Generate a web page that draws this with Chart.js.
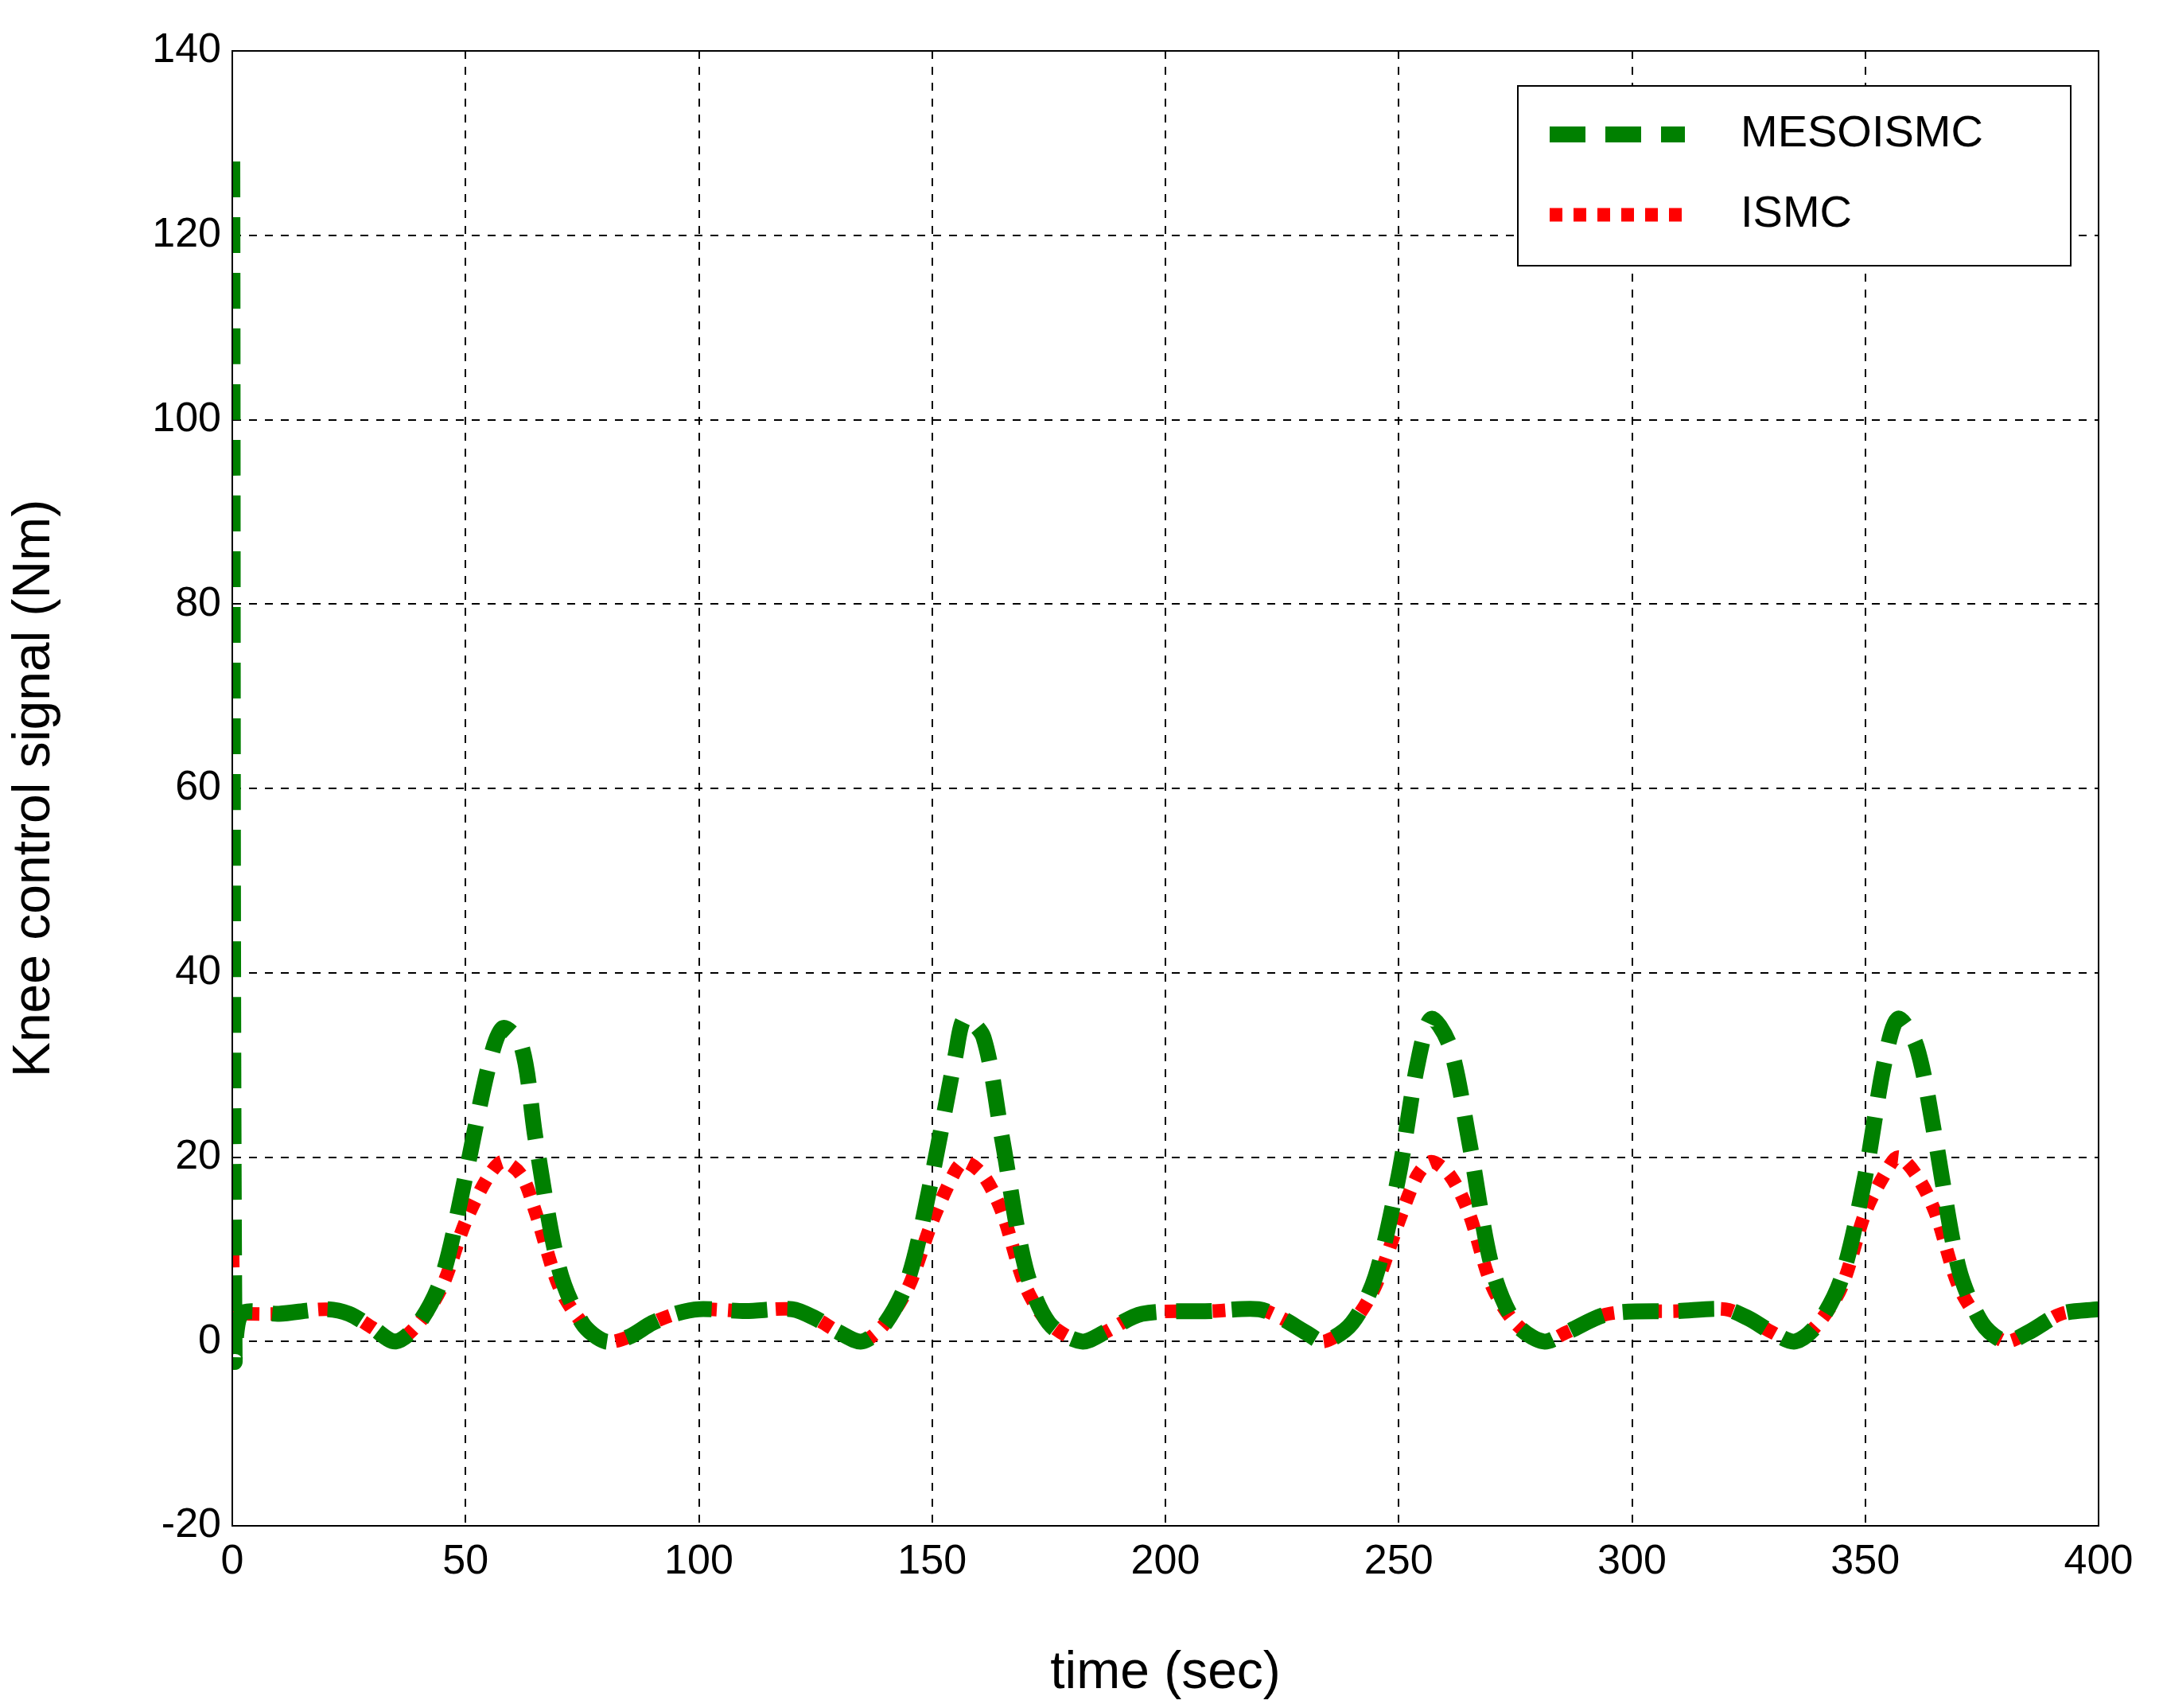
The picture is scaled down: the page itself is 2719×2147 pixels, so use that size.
<!DOCTYPE html>
<html>
<head>
<meta charset="utf-8">
<script src="https://cdn.jsdelivr.net/npm/chart.js@4"></script>
<style>
  body { margin: 0; background: #fff; }
</style>
</head>
<body>
<canvas id="chart" width="2719" height="2147"></canvas>
<script>
// values
var time = [0, 0.5, 2, 10, 20, 25, 30, 35, 40, 45, 50, 55, 58, 62, 65, 70, 75, 80, 85, 90, 95, 100, 110, 120, 125, 130, 135,
  140, 145, 150, 155, 157, 161, 165, 170, 175, 182, 187, 195, 210, 220, 225, 230, 234,
  240, 245, 250, 254, 257, 261, 265, 270, 275, 281, 286, 295, 310, 320, 325, 330, 335,
  340, 345, 350, 354, 357, 361, 365, 370, 375, 380, 385, 392, 400];
var mesoismc = [128, -2, 3, 3, 3.5, 3, 1.5, 0, 2, 7, 18, 30, 34, 32, 22, 8, 2, 0, 0.5, 2, 3, 3.5, 3.3, 3.5, 2.5, 1, 0,
  2, 7, 18, 31, 35, 33, 22, 8, 2, 0, 1, 3, 3.3, 3.5, 2.5, 1, 0,
  2, 7, 18, 30, 35, 32, 22, 8, 2, 0, 1, 3, 3.3, 3.5, 2.5, 1, 0,
  2, 7, 18, 30, 35, 32, 22, 8, 2, 0, 1, 3, 3.5];
var ismc = [12, 3, 3, 3, 3.5, 3, 1.5, 0, 2, 6, 13, 18, 19.5, 18, 14, 6, 2, 0, 0.5, 2, 3, 3.5, 3.3, 3.5, 2.5, 1, 0,
  2, 6, 13, 18.5, 19.5, 18, 14, 6, 2, 0, 1, 3, 3.3, 3.5, 2.5, 1, 0,
  2, 6, 13, 18, 19.5, 18, 14, 6, 2, 0, 1, 3, 3.3, 3.5, 2.5, 1, 0,
  2, 6, 14, 18, 20, 18, 14, 6, 2, 0, 1, 3, 3.5];
var seriesNames = ['MESOISMC', 'ISMC'];

function pts(ys) {
  return time.map(function (t, i) { return { x: t, y: ys[i] }; });
}

// draws the boxed legend in the top right corner
var boxLegend = {
  id: 'boxLegend',
  afterDraw: function (chart) {
    var ctx = chart.ctx;
    var a = chart.chartArea;
    ctx.save();
    // frame around the plot area
    ctx.strokeStyle = '#000';
    ctx.lineWidth = 2;
    ctx.setLineDash([]);
    ctx.strokeRect(a.left, a.top, a.right - a.left, a.bottom - a.top);

    ctx.fillStyle = '#fff';
    ctx.fillRect(1908, 108, 695, 226);
    ctx.strokeRect(1908, 108, 695, 226);
    var rows = [169, 270];
    chart.data.datasets.forEach(function (ds, i) {
      ctx.strokeStyle = ds.borderColor;
      ctx.lineWidth = ds.borderWidth;
      ctx.setLineDash(ds.borderDash);
      ctx.beginPath();
      ctx.moveTo(1948, rows[i]);
      ctx.lineTo(2118, rows[i]);
      ctx.stroke();
      ctx.setLineDash([]);
      ctx.fillStyle = '#000';
      ctx.font = '56px "Liberation Sans", Arial';
      ctx.textBaseline = 'middle';
      ctx.fillText(ds.label, 2188, rows[i]);
    });
    ctx.restore();
  }
};

var font = { size: 52, family: '"Liberation Sans", Arial' };
var titleFont = { size: 66, family: '"Liberation Sans", Arial' };

new Chart(document.getElementById('chart'), {
  type: 'scatter',
  data: {
    datasets: [{
      label: seriesNames[0],
      data: pts(mesoismc),
      showLine: true,
      borderColor: '#008000',
      borderWidth: 20,
      borderDash: [45, 25],
      pointRadius: 0,
      tension: 0.3
    }, {
      label: seriesNames[1],
      data: pts(ismc),
      showLine: true,
      borderColor: '#ff0000',
      borderWidth: 17,
      borderDash: [16, 14],
      pointRadius: 0,
      tension: 0.3
    }]
  },
  options: {
    responsive: false,
    animation: false,
    devicePixelRatio: 1,
    layout: { padding: { top: 64, right: 81, left: 0, bottom: 0 } },
    plugins: { legend: { display: false }, tooltip: { enabled: false } },
    scales: {
      x: {
        min: 0, max: 400,
        ticks: { stepSize: 50, color: '#000', padding: 14, font: font },
        grid: { color: '#000', lineWidth: 2, drawTicks: false },
        border: { display: true, color: '#000', width: 2, dash: [10, 10] },
        title: { display: true, text: 'time (sec)', color: '#000', font: titleFont },
        afterFit: function (s) { s.height = 229; }
      },
      y: {
        min: -20, max: 140,
        ticks: { stepSize: 20, color: '#000', padding: 14, font: font },
        grid: { color: '#000', lineWidth: 2, drawTicks: false },
        border: { display: true, color: '#000', width: 2, dash: [10, 10] },
        title: { display: true, text: 'Knee control signal (Nm)', color: '#000', font: titleFont },
        afterFit: function (s) { s.width = 292; }
      }
    }
  },
  plugins: [boxLegend]
});
</script>
</body>
</html>
